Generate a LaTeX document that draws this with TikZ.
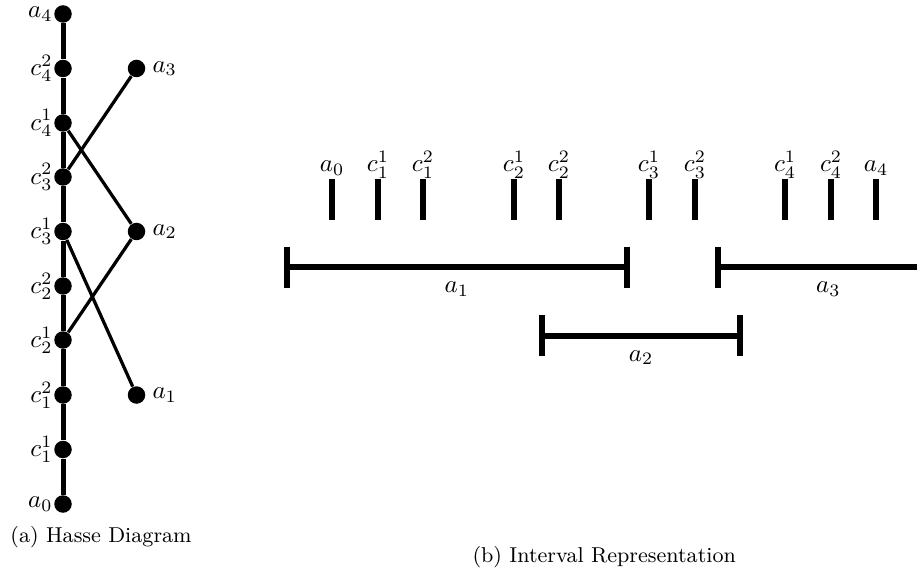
\documentclass[tikz,border=0pt]{standalone}
\usepackage{tikz}
\usetikzlibrary{calc}

\tikzset{
	hdot/.style={circle, fill=black, inner sep=0pt, minimum size=7pt},
	hleft/.style={label={[inner sep=0.3pt, label distance=0pt]left:#1}},
	hright/.style={label={[inner sep=1pt, label distance=1.5pt]right:#1}},
	chain/.style={line width=2pt},
	cover/.style={line width=1.3pt},
	bar/.style={line width=2.4pt},
}

\begin{document}
\begin{tikzpicture}[x=0.4pt, y=-0.4pt]
		%%%%% START %%%%%
		\clip (0, 0) rectangle (917, 571);
		
		% (a) Hasse diagram
		\node[hdot, hleft=$a_4$] (a4) at (63, 14) {};
		\node[hdot, hleft=$c_4^2$] (c42) at (63, 68.5) {};
		\node[hdot, hleft=$c_4^1$] (c41) at (63, 123) {};
		\node[hdot, hleft=$c_3^2$] (c32) at (63, 177) {};
		\node[hdot, hleft=$c_3^1$] (c31) at (63, 231.5) {};
		\node[hdot, hleft=$c_2^2$] (c22) at (63, 286) {};
		\node[hdot, hleft=$c_2^1$] (c21) at (63, 340) {};
		\node[hdot, hleft=$c_1^2$] (c12) at (63, 395) {};
		\node[hdot, hleft=$c_1^1$] (c11) at (63, 449.5) {};
		\node[hdot, hleft=$a_0$] (a0) at (63, 504) {};
		
		\node[hdot, hright=$a_3$] (a3) at (136.5, 68.5) {};
		\node[hdot, hright=$a_2$] (a2) at (136.5, 231.5) {};
		\node[hdot, hright=$a_1$] (a1) at (136.5, 395) {};
		
		\draw[chain] (a0) -- (c11) -- (c12) -- (c21) -- (c22) -- (c31) -- (c32) -- (c41) -- (c42) -- (a4);
		
		\draw[cover] (a3) -- (c32);
		\draw[cover] (a2) -- (c41);
		\draw[cover] (a2) -- (c21);
		\draw[cover] (a1) -- (c31);
		
		\node[anchor=base west, inner sep=0pt] (capa) at (10, 542) {\fontsize{8.6}{10}\selectfont (a) Hasse Diagram};
		
		% (b) Interval representation
		\draw[bar] (332, 179) -- (332, 220);
		\draw[bar] (378, 179) -- (378, 220);
		\draw[bar] (423, 179) -- (423, 220);
		\draw[bar] (514, 179) -- (514, 220);
		\draw[bar] (559, 179) -- (559, 220);
		\draw[bar] (649, 179) -- (649, 220);
		\draw[bar] (695, 179) -- (695, 220);
		\draw[bar] (785, 179) -- (785, 220);
		\draw[bar] (831, 179) -- (831, 220);
		\draw[bar] (876, 179) -- (876, 220);
		
		\node[anchor=base] (ta0) at (332, 172) {$a_0$};
		\node[anchor=base] (tc11) at (378, 172) {$c_1^1$};
		\node[anchor=base] (tc12) at (423, 172) {$c_1^2$};
		\node[anchor=base] (tc21) at (514, 172) {$c_2^1$};
		\node[anchor=base] (tc22) at (559, 172) {$c_2^2$};
		\node[anchor=base] (tc31) at (649, 172) {$c_3^1$};
		\node[anchor=base] (tc32) at (695, 172) {$c_3^2$};
		\node[anchor=base] (tc41) at (785, 172) {$c_4^1$};
		\node[anchor=base] (tc42) at (831, 172) {$c_4^2$};
		\node[anchor=base] (ta4) at (876, 172) {$a_4$};
		
		\coordinate (i1l) at (287, 267.5);
		\coordinate (i1r) at (626.5, 267.5);
		\coordinate (i2l) at (542, 335.5);
		\coordinate (i2r) at (740, 335.5);
		\coordinate (i3l) at (717.5, 267.5);
		\coordinate (i3r) at (939, 267.5);
		
		\draw[bar] (i1l) -- (i1r);
		\draw[bar] ($(i1l)+(0, -20.5)$) -- ($(i1l)+(0, 20.5)$);
		\draw[bar] ($(i1r)+(0, -20.5)$) -- ($(i1r)+(0, 20.5)$);
		\node[anchor=base] (la1) at ($(i1l)!0.5!(i1r)+(0, 25.5)$) {$a_1$};
		
		\draw[bar] (i2l) -- (i2r);
		\draw[bar] ($(i2l)+(0, -20.5)$) -- ($(i2l)+(0, 20.5)$);
		\draw[bar] ($(i2r)+(0, -20.5)$) -- ($(i2r)+(0, 20.5)$);
		\node[anchor=base] (la2) at ($(i2l)!0.5!(i2r)+(0, 25.5)$) {$a_2$};
		
		\draw[bar] (i3l) -- (i3r);
		\draw[bar] ($(i3l)+(0, -20.5)$) -- ($(i3l)+(0, 20.5)$);
		\draw[bar] ($(i3r)+(0, -20.5)$) -- ($(i3r)+(0, 20.5)$);
		\node[anchor=base] (la3) at ($(i3l)!0.5!(i3r)+(0, 25.5)$) {$a_3$};
		
		\node[anchor=base west, inner sep=0pt] (capb) at (472, 562) {\fontsize{8.6}{10}\selectfont (b) Interval Representation};
		%%%%% END %%%%%
\end{tikzpicture}
\end{document}
